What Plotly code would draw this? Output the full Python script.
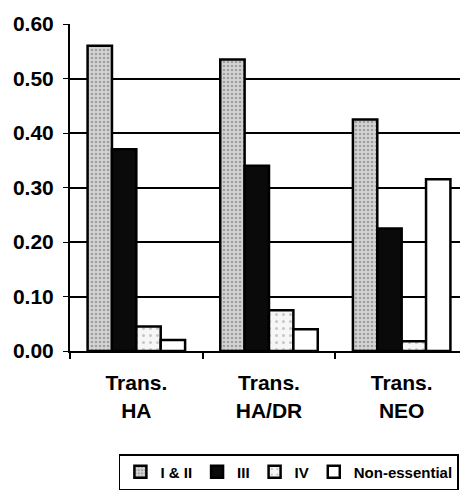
import plotly.graph_objects as go

# categories and series
groups = ["Trans.<br>HA", "Trans.<br>HA/DR", "Trans.<br>NEO"]
class_1_2 = [0.56, 0.535, 0.425]
class_3 = [0.37, 0.34, 0.225]
class_4 = [0.045, 0.075, 0.018]
non_essential = [0.02, 0.04, 0.315]
y_ticks = [0.0, 0.1, 0.2, 0.3, 0.4, 0.5, 0.6]

FONT = "Liberation Sans, Arial, sans-serif"

fig = go.Figure()

fig.add_trace(go.Bar(
    x=groups, y=class_1_2, name="I & II",
    marker=dict(color="#c4c4c4",
                line=dict(color="black", width=2.5),
                pattern=dict(shape=".", fgcolor="#6a6a6a", bgcolor="#d4d4d4",
                             size=4, solidity=0.35)),
))
fig.add_trace(go.Bar(
    x=groups, y=class_3, name="III",
    marker=dict(color="#0a0a0a", line=dict(color="black", width=2.5)),
))
fig.add_trace(go.Bar(
    x=groups, y=class_4, name="IV",
    marker=dict(color="white",
                line=dict(color="black", width=2.5),
                pattern=dict(shape=".", fgcolor="#9a9a9a", bgcolor="#f6f6f6",
                             size=7, solidity=0.15)),
))
fig.add_trace(go.Bar(
    x=groups, y=non_essential, name="Non-essential",
    marker=dict(color="white", line=dict(color="black", width=2.5)),
))

# page body keeps an 8px margin, so the figure is sized to fit inside the window
fig.update_layout(
    width=460, height=490,
    margin=dict(l=62, r=0, t=16, b=147, autoexpand=False),
    paper_bgcolor="white", plot_bgcolor="white",
    barmode="group", bargap=0.265, bargroupgap=0,
    font=dict(family=FONT, color="black", size=19, weight="bold"),
    legend=dict(orientation="h", x=0.55, xanchor="center", y=-0.315, yanchor="top",
                bordercolor="black", borderwidth=1.5, bgcolor="white",
                font=dict(size=15, family=FONT, weight="bold"),
                itemwidth=30, tracegroupgap=0),
)

fig.update_xaxes(
    showline=True, linecolor="black", linewidth=2,
    ticks="outside", tickson="boundaries", ticklen=6, tickcolor="black", tickwidth=1.5,
    tickfont=dict(size=21, family=FONT, weight="bold"),
    ticklabelstandoff=12,
    showgrid=False, automargin=False,
)
fig.update_yaxes(
    range=[0, 0.6], tickvals=y_ticks, tickformat=".2f",
    showline=True, linecolor="black", linewidth=2,
    ticks="outside", ticklen=5, tickcolor="black",
    ticklabelstandoff=5,
    showgrid=True, gridcolor="black", gridwidth=1.5,
    zeroline=False, automargin=False,
    tickfont=dict(size=21, family=FONT, weight="bold"),
)

fig.write_html("out.html")
